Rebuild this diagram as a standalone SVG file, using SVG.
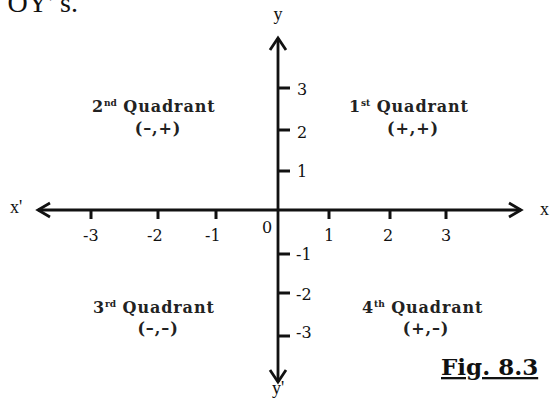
<svg xmlns="http://www.w3.org/2000/svg" width="556" height="400" viewBox="0 0 556 400">
<style>
.ax{stroke:#111;stroke-width:2.8;fill:none}
.ah{stroke:#111;stroke-width:2.8;fill:none;stroke-linecap:butt}
.tk{stroke:#111;stroke-width:3}
.num{font-family:"DejaVu Serif",serif;font-size:16px;fill:#111}
.lab{font-family:"Liberation Serif",serif;font-size:18px;fill:#111}
.q{font-family:"DejaVu Serif",serif;font-size:16px;font-weight:bold;fill:#222;letter-spacing:0.9px}
.sup{font-size:9px;letter-spacing:0}
.fig{font-family:"DejaVu Serif",serif;font-size:23px;font-weight:bold;fill:#111;text-decoration:underline}
</style>
<rect width="556" height="400" fill="#fff"/>
<text class="lab" x="78" y="12" text-anchor="end" style="font-size:28px">OY' s.</text>
<g id="connectors">
<line class="ax" x1="38" y1="210" x2="521" y2="210"/>
<polyline class="ah" points="50,203 38,210 50,217"/>
<polyline class="ah" points="509,203 521,210 509,217"/>
<line class="ax" x1="278" y1="38" x2="278" y2="382"/>
<polyline class="ah" points="270,50 278,38 286,50"/>
<polyline class="ah" points="270,370 278,382 286,370"/>
<g class="tk">
<line x1="91" y1="210" x2="91" y2="219"/>
<line x1="158" y1="210" x2="158" y2="219"/>
<line x1="216" y1="210" x2="216" y2="219"/>
<line x1="329" y1="210" x2="329" y2="219"/>
<line x1="390" y1="210" x2="390" y2="219"/>
<line x1="446" y1="210" x2="446" y2="219"/>
<line x1="278" y1="88" x2="290" y2="88"/>
<line x1="278" y1="130" x2="290" y2="130"/>
<line x1="278" y1="171" x2="290" y2="171"/>
<line x1="278" y1="254" x2="290" y2="254"/>
<line x1="278" y1="293" x2="290" y2="293"/>
<line x1="278" y1="336" x2="290" y2="336"/>
</g>
</g>
<g id="axis-labels">
<text class="lab" x="278" y="20" text-anchor="middle">y</text>
<text class="lab" x="278" y="394" text-anchor="middle">y'</text>
<text class="lab" x="10" y="213">x'</text>
<text class="lab" x="540" y="215">x</text>
</g>
<g id="x-numbers" class="num">
<text x="83" y="241">-3</text>
<text x="147" y="241">-2</text>
<text x="205" y="241">-1</text>
<text x="262" y="233">0</text>
<text x="329" y="241" text-anchor="middle">1</text>
<text x="388" y="241" text-anchor="middle">2</text>
<text x="446" y="241" text-anchor="middle">3</text>
</g>
<g id="y-numbers" class="num">
<text x="297" y="95">3</text>
<text x="297" y="138">2</text>
<text x="297" y="177">1</text>
<text x="296" y="260">-1</text>
<text x="296" y="300">-2</text>
<text x="296" y="338">-3</text>
</g>
<g id="q2">
<text class="q" x="92" y="112">2<tspan class="sup" dy="-6">nd</tspan><tspan dy="6"> Quadrant</tspan></text>
<text class="q" x="158" y="134" text-anchor="middle">(–,+)</text>
</g>
<g id="q1">
<text class="q" x="349" y="112">1<tspan class="sup" dy="-6">st</tspan><tspan dy="6"> Quadrant</tspan></text>
<text class="q" x="413" y="134" text-anchor="middle">(+,+)</text>
</g>
<g id="q3">
<text class="q" x="93" y="313">3<tspan class="sup" dy="-6">rd</tspan><tspan dy="6"> Quadrant</tspan></text>
<text class="q" x="158" y="334" text-anchor="middle">(–,–)</text>
</g>
<g id="q4">
<text class="q" x="362" y="313">4<tspan class="sup" dy="-6">th</tspan><tspan dy="6"> Quadrant</tspan></text>
<text class="q" x="426" y="334" text-anchor="middle">(+,–)</text>
</g>
<g id="fig">
<text class="fig" x="441" y="375">Fig. 8.3</text>
</g>
</svg>
